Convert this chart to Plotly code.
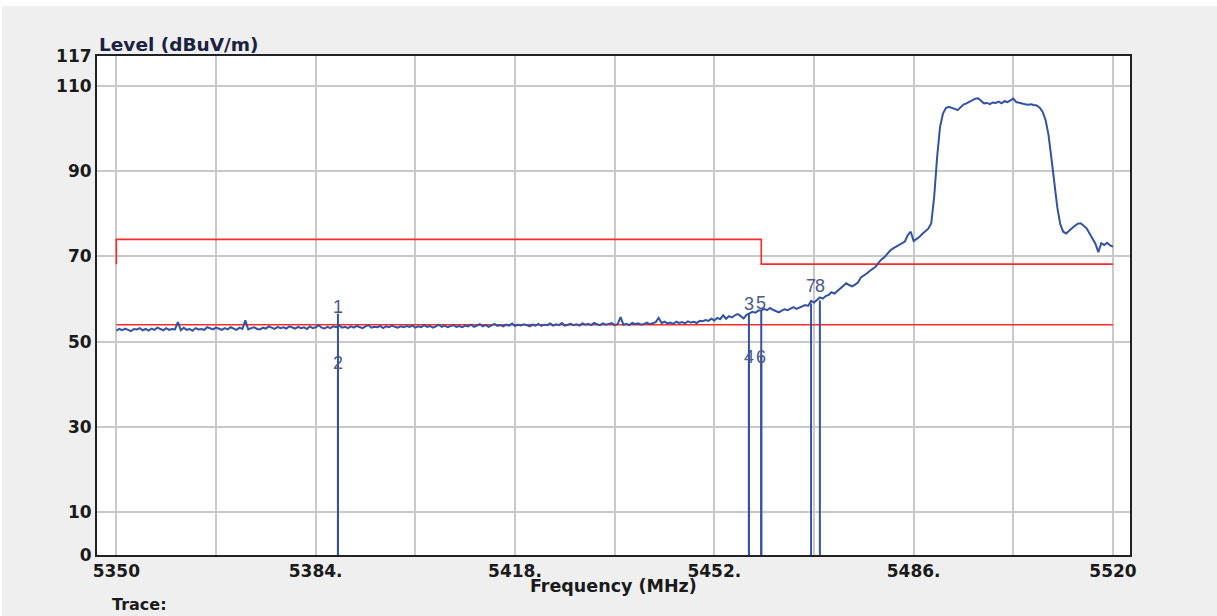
import numpy as np
import plotly.graph_objects as go

# ---- data ----
start_freq = 5350.0
step_mhz = 0.5
level_rows = [
    [52.6, 53.0, 52.7, 53.1, 52.8, 52.5, 53.0, 52.9, 53.2, 52.7, 53.0, 52.6, 53.1, 52.8, 53.3, 52.9, 52.7, 53.2, 52.8, 53.0],
    [52.9, 54.6, 52.7, 53.3, 52.8, 53.0, 52.6, 53.2, 52.9, 53.0, 52.8, 53.4, 53.1, 52.9, 53.3, 53.0, 52.8, 53.2, 52.9, 53.4],
    [53.1, 52.8, 53.3, 53.0, 55.0, 52.9, 53.2, 53.4, 53.0, 52.9, 53.3, 53.1, 53.6, 53.2, 53.0, 53.5, 53.2, 53.4, 53.1, 53.6],
    [53.3, 53.1, 53.5, 53.2, 53.4, 53.0, 53.6, 53.2, 53.4, 53.9, 53.3, 53.1, 53.5, 53.2, 53.6, 53.4, 53.8, 53.3, 53.5, 53.2],
    [53.6, 53.3, 53.7, 53.4, 53.2, 53.6, 53.9, 53.3, 53.5, 53.4, 53.7, 53.2, 53.6, 53.4, 53.8, 53.5, 53.3, 53.6, 53.4, 53.7],
    [53.5, 53.8, 53.3, 53.6, 53.4, 53.9, 53.5, 53.7, 53.3, 53.6, 54.0, 53.5, 53.8, 53.4, 53.6, 53.9, 53.5, 53.7, 53.4, 53.8],
    [53.6, 54.0, 53.5, 53.8, 54.1, 53.6, 53.9, 53.5, 53.8, 54.2, 53.7, 53.9, 53.6, 54.0, 53.8, 54.3, 53.7, 54.0, 53.8, 54.1],
    [53.9, 53.6, 54.0, 53.8, 54.2, 53.7, 54.0, 53.9, 54.3, 53.8, 54.1, 53.9, 54.4, 53.8, 54.0, 54.2, 53.9, 54.1, 53.8, 54.3],
    [54.0, 54.2, 53.9, 54.4, 54.1, 53.9, 54.3, 54.0, 54.2, 54.4, 53.9, 54.1, 55.8, 54.0, 54.2, 53.9, 54.4, 54.1, 54.3, 54.0],
    [54.2, 54.5, 54.1, 54.3, 54.6, 55.6, 54.4, 54.7, 54.3, 54.5, 54.2, 54.7, 54.4, 54.6, 54.3, 54.8, 54.5, 54.7, 54.4, 54.9],
    [54.8, 55.1, 54.9, 55.4, 55.0, 55.6, 55.3, 56.2, 55.4, 56.0, 55.7, 56.2, 56.5, 56.0, 55.5, 56.3, 56.7, 57.0, 56.8, 57.3],
    [57.3, 57.7, 57.4, 57.9, 57.5, 57.2, 56.9, 57.3, 57.6, 57.4, 57.8, 58.1, 57.7, 58.0, 58.3, 58.6, 58.4, 59.6, 59.2, 59.8],
    [60.4, 60.1, 60.7, 61.0, 61.6, 61.3, 61.9, 62.5, 63.1, 63.7, 63.3, 63.0, 63.4, 63.9, 65.1, 65.5, 66.0, 66.6, 67.2, 67.6],
    [68.5, 69.3, 69.8, 70.6, 71.4, 71.9, 72.3, 72.8, 73.2, 73.5, 75.0, 75.8, 73.6, 74.0, 74.6, 75.3, 75.9, 76.5, 77.8, 84.0],
    [93.3, 100.4, 103.5, 104.8, 105.1, 104.9, 104.6, 104.3, 105.0, 105.6, 105.9, 106.3, 106.5, 107.0, 107.1, 106.4, 105.9, 106.0, 105.7, 106.1],
    [106.0, 106.3, 105.9, 106.4, 106.2, 106.6, 107.0, 106.2, 106.0, 105.8, 105.7, 105.6, 105.7, 105.5, 105.4, 104.9, 103.9, 102.0, 98.5, 93.0],
    [87.0, 81.5, 77.6, 75.8, 75.4, 75.9, 76.6, 77.2, 77.7, 77.8, 77.3, 76.6, 75.4, 74.2, 73.0, 71.0, 73.1, 72.7, 73.2, 72.6],
    [72.3],
]

limit_peak_freq = [5350, 5350, 5460, 5460, 5520]
limit_peak_level = [68.2, 74.0, 74.0, 68.2, 68.2]
limit_avg_freq = [5350, 5520]
limit_avg_level = [54.0, 54.0]

marker_no = ["1", "2", "3", "4", "5", "6", "7", "8"]
marker_freq = [5387.8, 5387.8, 5457.9, 5457.9, 5460.0, 5460.0, 5468.5, 5470.0]
marker_level = [56.6, 45.4, 56.6, 46.8, 57.3, 46.8, 59.0, 59.7]

x_tick_vals = [5350, 5367, 5384, 5401, 5418, 5435, 5452, 5469, 5486, 5503, 5520]
x_tick_text = ["5350", "", "5384.", "", "5418.", "", "5452.", "", "5486.", "", "5520"]
y_tick_vals = [0, 10, 30, 50, 70, 90, 110, 117]
y_tick_text = ["0", "10", "30", "50", "70", "90", "110", "117"]

# ---- build ----
levels = [v for row in level_rows for v in row]
freqs = start_freq + step_mhz * np.arange(len(levels))

BLUE = "#3352a3"
RED = "#ff2a2a"
MK = "#4b5a8a"
FONT = "DejaVu Sans"

fig = go.Figure()
fig.add_trace(go.Scatter(x=limit_peak_freq, y=limit_peak_level, mode="lines",
                         line=dict(color=RED, width=1.6), hoverinfo="skip"))
fig.add_trace(go.Scatter(x=limit_avg_freq, y=limit_avg_level, mode="lines",
                         line=dict(color=RED, width=1.6), hoverinfo="skip"))
fig.add_trace(go.Scatter(x=freqs, y=levels, mode="lines",
                         line=dict(color=BLUE, width=2)))

mx, my = [], []
for f, lv in zip(marker_freq, marker_level):
    mx += [f, f, None]
    my += [0, lv, None]
fig.add_trace(go.Scatter(x=mx, y=my, mode="lines", line=dict(color=BLUE, width=2),
                         hoverinfo="skip"))

# label pixel offsets (style): peak labels above the line top, average labels mid-line
label_shift = {"1": 7, "2": -2, "3": 10, "4": -2, "5": 8, "6": -2, "7": 17, "8": 14}
annotations = []
for n, f, lv in zip(marker_no, marker_freq, marker_level):
    annotations.append(dict(x=f, y=lv, xref="x", yref="y", text=n, showarrow=False,
                            yanchor="middle", yshift=label_shift[n],
                            font=dict(family="Liberation Sans", size=18, color=MK)))

annotations += [
    dict(x=0, y=1.0, xref="paper", yref="paper", xanchor="left", yanchor="bottom",
         text="<b>Level (dBuV/m)</b>", showarrow=False, yshift=-1,
         font=dict(family=FONT, size=18.5, color="#1b2240")),
    dict(x=0.5, y=0, xref="paper", yref="paper", xanchor="center", yanchor="middle",
         text="<b>Frequency (MHz)</b>", showarrow=False, yshift=-31,
         font=dict(family=FONT, size=17.5, color="#1a1a1a")),
    dict(x=0, y=0, xref="paper", yref="paper", xanchor="left", yanchor="top",
         text="<b>Trace:</b>", showarrow=False, xshift=14, yshift=-39, borderpad=0,
         font=dict(family=FONT, size=16, color="#1a1a1a")),
]

fig.update_layout(
    width=1217, height=616,
    margin=dict(l=97, r=87, t=56, b=61),
    paper_bgcolor="#efefef",
    plot_bgcolor="white",
    showlegend=False,
    annotations=annotations,
    shapes=[
        dict(type="rect", xref="paper", yref="paper", x0=-0.2, x1=1.2, y0=1.1, y1=1.2,
             fillcolor="white", line=dict(width=0), layer="below"),
        dict(type="rect", xref="paper", yref="paper", x0=-0.2, x1=-0.0921, y0=-0.3, y1=1.2,
             fillcolor="white", line=dict(width=0), layer="below"),
    ],
)
fig.update_xaxes(range=[5346.7, 5522.9], tickmode="array", tickvals=x_tick_vals,
                 ticktext=x_tick_text, showgrid=True, gridcolor="#c9c9c9", gridwidth=2,
                 showline=True, mirror=True, linecolor="#222222", linewidth=2,
                 ticks="", zeroline=False, ticklabelstandoff=0,
                 tickfont=dict(family=FONT, size=17, color="#1a1a1a", weight="bold"))
fig.update_yaxes(range=[0, 117], tickmode="array", tickvals=y_tick_vals,
                 ticktext=y_tick_text, showgrid=True, gridcolor="#c9c9c9", gridwidth=2,
                 showline=True, mirror=True, linecolor="#222222", linewidth=2,
                 ticks="", zeroline=False, ticklabelstandoff=0,
                 tickfont=dict(family=FONT, size=17, color="#1a1a1a", weight="bold"))

fig.write_html("out.html", config={"displayModeBar": False},
               post_script="document.body.style.margin='0';")
